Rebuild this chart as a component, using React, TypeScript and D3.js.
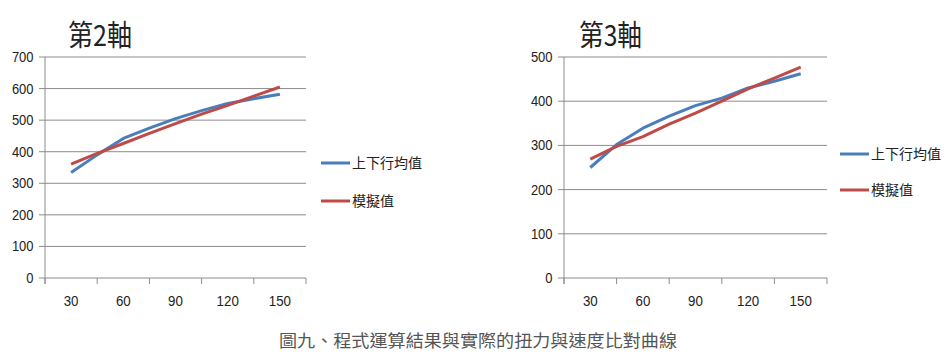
import React from "react";
import * as d3 from "d3";

const speeds = [30, 45, 60, 75, 90, 105, 120, 135, 150];
const xTickLabels = [30, 60, 90, 120, 150];
const axis2Measured = [334, 390, 442, 475, 505, 530, 553, 568, 582];
const axis2Model = [361, 395, 426, 458, 489, 519, 547, 576, 605];
const axis3Measured = [250, 302, 339, 366, 390, 407, 430, 445, 462];
const axis3Model = [269, 298, 320, 348, 373, 400, 428, 452, 477];
const axis2YTicks = [0, 100, 200, 300, 400, 500, 600, 700];
const axis3YTicks = [0, 100, 200, 300, 400, 500];
const seriesNames = ["上下行均值", "模擬值"];
const titles = ["第2軸", "第3軸"];
const caption = "圖九、程式運算結果與實際的扭力與速度比對曲線";

const BLUE = "#4A7EBB";
const RED = "#BE4B48";
const GRID = "#8c8c8c";
const TEXT = "#222";
const LATIN = "'Liberation Sans', Arial, sans-serif";
const CJK = "'Noto Sans CJK TC', 'Noto Sans CJK SC', sans-serif";

type ChartProps = {
  left: number;
  right: number;
  top: number;
  bottom: number;
  yMax: number;
  yTicks: number[];
  measured: number[];
  model: number[];
  title: string;
  titleX: number;
  titleW: number;
  legendX: number;
  legendY1: number;
  legendY2: number;
};

function Chart(p: ChartProps) {
  const x = d3.scaleLinear().domain([15, 165]).range([p.left, p.right]);
  const y = d3.scaleLinear().domain([0, p.yMax]).range([p.bottom, p.top]);
  const line = d3
    .line<number>()
    .x((_, i) => x(speeds[i]))
    .y((d) => y(d));
  const xTicks = d3.range(15, 166, 30);
  return (
    <g>
      <text
        x={p.titleX}
        y={46}
        fontFamily={CJK}
        fontSize={29}
        fill={TEXT}
        textLength={p.titleW}
        lengthAdjust="spacingAndGlyphs"
      >
        {p.title}
      </text>
      {p.yTicks.map((t) => (
        <g key={t}>
          <line x1={p.left} x2={p.right} y1={y(t)} y2={y(t)} stroke={GRID} strokeWidth={1} />
          <line x1={p.left - 6} x2={p.left} y1={y(t)} y2={y(t)} stroke={GRID} strokeWidth={1} />
          <text
            x={p.left - 11.5}
            y={y(t)}
            dy="0.36em"
            textAnchor="end"
            fontFamily={LATIN}
            fontSize={14}
            fill={TEXT}
            textLength={String(t).length * 7.2}
            lengthAdjust="spacingAndGlyphs"
          >
            {t}
          </text>
        </g>
      ))}
      <line x1={p.left} x2={p.left} y1={p.top} y2={p.bottom + 6} stroke={GRID} strokeWidth={1} />
      {xTicks.map((t) => (
        <line key={t} x1={x(t)} x2={x(t)} y1={p.bottom} y2={p.bottom + 6} stroke={GRID} strokeWidth={1} />
      ))}
      {xTickLabels.map((t) => (
        <text
          key={t}
          x={x(t)}
          y={p.bottom + 23}
          dy="0.36em"
          textAnchor="middle"
          fontFamily={LATIN}
          fontSize={14}
          fill={TEXT}
          textLength={String(t).length * 7.4}
          lengthAdjust="spacingAndGlyphs"
        >
          {t}
        </text>
      ))}
      <path d={line(p.measured) || ""} fill="none" stroke={BLUE} strokeWidth={3} strokeLinejoin="round" />
      <path d={line(p.model) || ""} fill="none" stroke={RED} strokeWidth={3} strokeLinejoin="round" />
      <line x1={p.legendX} x2={p.legendX + 29} y1={p.legendY1} y2={p.legendY1} stroke={BLUE} strokeWidth={3} />
      <text x={p.legendX + 31} y={p.legendY1} dy="0.36em" fontFamily={CJK} fontSize={14} fill={TEXT}>
        {seriesNames[0]}
      </text>
      <line x1={p.legendX} x2={p.legendX + 29} y1={p.legendY2} y2={p.legendY2} stroke={RED} strokeWidth={3} />
      <text x={p.legendX + 31} y={p.legendY2} dy="0.36em" fontFamily={CJK} fontSize={14} fill={TEXT}>
        {seriesNames[1]}
      </text>
    </g>
  );
}

export default function App() {
  return (
    <svg
      width={948}
      height={360}
      style={{ position: "absolute", left: 0, top: 0, background: "#fff" }}
    >
      <rect width={948} height={360} fill="#fff" />
      <Chart
        left={45}
        right={306}
        top={57}
        bottom={278}
        yMax={700}
        yTicks={axis2YTicks}
        measured={axis2Measured}
        model={axis2Model}
        title={titles[0]}
        titleX={68}
        titleW={64}
        legendX={321}
        legendY1={163}
        legendY2={201}
      />
      <Chart
        left={564}
        right={827}
        top={57}
        bottom={278}
        yMax={500}
        yTicks={axis3YTicks}
        measured={axis3Measured}
        model={axis3Model}
        title={titles[1]}
        titleX={579}
        titleW={63}
        legendX={840}
        legendY1={154}
        legendY2={190}
      />
      <text
        x={478}
        y={341}
        dy="0.36em"
        textAnchor="middle"
        fontFamily={CJK}
        fontSize={17}
        fill="#555"
        textLength={398}
        lengthAdjust="spacingAndGlyphs"
      >
        {caption}
      </text>
    </svg>
  );
}
